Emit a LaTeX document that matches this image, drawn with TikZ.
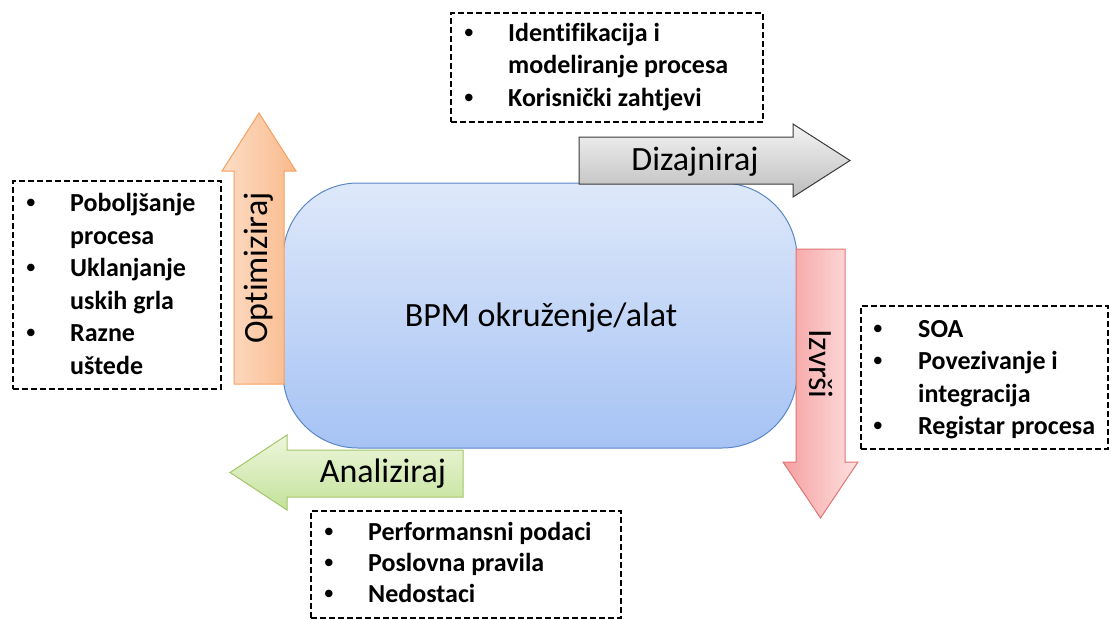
\documentclass[tikz,border=0pt]{standalone}
\usepackage{fontspec}
\setmainfont{Carlito}[Ligatures=NoCommon]
\newfontfamily\bulfont{Liberation Sans}
\definecolor{bpmtop}{HTML}{DEE8FA}
\definecolor{bpmbot}{HTML}{A6C3F4}
\definecolor{bpmborder}{HTML}{5A87C5}
\definecolor{orL}{HTML}{FDDDC6}
\definecolor{orR}{HTML}{F9BA8C}
\definecolor{orB}{HTML}{F5A060}
\definecolor{grT}{HTML}{F4F4F4}
\definecolor{grB}{HTML}{BDBDBD}
\definecolor{grD}{HTML}{3A3A3A}
\definecolor{rdL}{HTML}{F6A0A0}
\definecolor{rdR}{HTML}{FDE0E0}
\definecolor{rdB}{HTML}{E07575}
\definecolor{gnT}{HTML}{EDF6DC}
\definecolor{gnB}{HTML}{C4E29A}
\definecolor{gnD}{HTML}{A3C66A}
\begin{document}
\begin{tikzpicture}[x=1pt,y=-1pt,
  dbox/.style={draw=black, line width=2pt, dash pattern=on 6pt off 3pt, rectangle, anchor=north west, inner sep=0pt},
  item/.style={anchor=base west, inner sep=0pt, font=\fontsize{26}{31}\selectfont\bfseries},
  bul/.style={anchor=base, inner sep=0pt, font=\bulfont\fontsize{26}{31}\selectfont\bfseries},
  big/.style={inner sep=0pt, font=\fontsize{34}{40}\selectfont},
  arr/.style={line width=1pt}]
\useasboundingbox (0,0) rectangle (1112,619);
% main rounded rectangle
\node[name=bpm, draw=bpmborder, line width=1pt, rounded corners=75pt, minimum width=514pt, minimum height=265pt, top color=bpmtop, bottom color=bpmbot, inner sep=0pt] at (540,315.5) {};
\node[big, name=bpmtext] at (541,318) {BPM okruženje/alat};
% orange up arrow
\path[arr, draw=orB, left color=orL, right color=orR] (234,384) -- (234,171) -- (222,171) -- (259,113) -- (296,171) -- (284,171) -- (284,384) -- cycle;
\node[big, name=opt, rotate=90] at (259,268) {Optimiziraj};
% gray right arrow
\path[arr, draw=grD, top color=grT, bottom color=grB] (579,137) -- (793,137) -- (793,124) -- (850,160.5) -- (793,197) -- (793,184) -- (579,184) -- cycle;
\node[big, name=diz] at (695,162) {Dizajniraj};
% red down arrow
\path[arr, draw=rdB, left color=rdL, right color=rdR] (796,249) -- (845,249) -- (845,462) -- (858,462) -- (820.5,518) -- (783,462) -- (796,462) -- cycle;
\node[big, name=izv, rotate=-90] at (821,364) {Izvrši};
% green left arrow
\path[arr, draw=gnD, top color=gnT, bottom color=gnB] (463,450) -- (463,497) -- (287,497) -- (287,510) -- (230,472.5) -- (287,435) -- (287,450) -- cycle;
\node[big, name=ana] at (383,474) {Analiziraj};
% top box
\node[dbox, name=boxT, minimum width=312pt, minimum height=109pt] at (450,12) {};
\node[bul, name=bT1] at (469,41.7) {•};
\node[item, name=tT1] at (508,41.7) {Identifikacija i};
\node[item, name=tT2] at (508,73.8) {modeliranje procesa};
\node[bul, name=bT3] at (469,106) {•};
\node[item, name=tT3] at (508,106) {Korisnički zahtjevi};
% left box
\node[dbox, name=boxL, minimum width=208pt, minimum height=208pt] at (12,180) {};
\node[bul, name=bL1] at (31,211.5) {•};
\node[item, name=tL1] at (70,211.5) {Poboljšanje};
\node[item, name=tL2] at (70,244) {procesa};
\node[bul, name=bL3] at (31,276.5) {•};
\node[item, name=tL3] at (70,276.5) {Uklanjanje};
\node[item, name=tL4] at (70,309) {uskih grla};
\node[bul, name=bL5] at (31,341.5) {•};
\node[item, name=tL5] at (70,341.5) {Razne};
\node[item, name=tL6] at (70,374) {uštede};
% right box
\node[dbox, name=boxR, minimum width=247pt, minimum height=143pt] at (860,305) {};
\node[bul, name=bR1] at (878,337) {•};
\node[item, name=tR1] at (918,337) {SOA};
\node[bul, name=bR2] at (878,369.5) {•};
\node[item, name=tR2] at (918,369.5) {Povezivanje i};
\node[item, name=tR3] at (918,402) {integracija};
\node[bul, name=bR4] at (878,434.5) {•};
\node[item, name=tR4] at (918,434.5) {Registar procesa};
% bottom box
\node[dbox, name=boxB, minimum width=310pt, minimum height=107pt] at (310,510) {};
\node[bul, name=bB1] at (329,540.5) {•};
\node[item, name=tB1] at (368,540.5) {Performansni podaci};
\node[bul, name=bB2] at (329,571.5) {•};
\node[item, name=tB2] at (368,571.5) {Poslovna pravila};
\node[bul, name=bB3] at (329,602) {•};
\node[item, name=tB3] at (368,602) {Nedostaci};
\end{tikzpicture}
\end{document}
